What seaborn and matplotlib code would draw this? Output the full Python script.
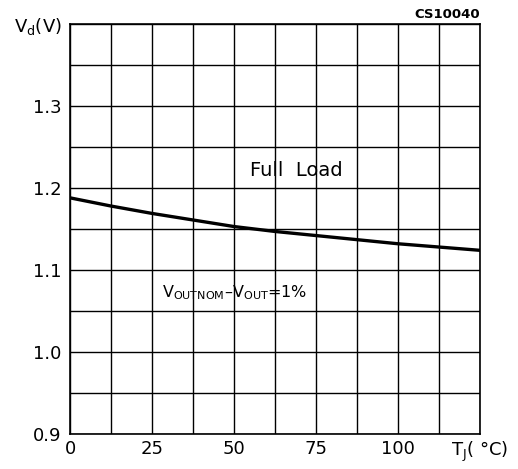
import matplotlib
matplotlib.use("Agg")
import matplotlib.pyplot as plt
import seaborn as sns
import numpy as np
import pandas as pd

# Data
tj = [0, 12.5, 25, 37.5, 50, 62.5, 75, 87.5, 100, 112.5, 125]
vd = [1.188, 1.178, 1.169, 1.161, 1.153, 1.147, 1.142, 1.137, 1.132, 1.128, 1.124]
x_ticks = [0, 25, 50, 75, 100, 125]
x_labels = ["0", "25", "50", "75", "100", r"T$_{\rm J}$( °C)"]
y_ticks = [0.9, 1.0, 1.1, 1.2, 1.3, 1.4]
y_labels = ["0.9", "1.0", "1.1", "1.2", "1.3", r"V$_{\rm d}$(V)"]

sns.set_theme(style="white")
plt.rcParams['font.family'] = ['DejaVu Sans']
plt.rcParams['mathtext.fontset'] = 'dejavusans'

fig = plt.figure(figsize=(5.18, 4.69), dpi=100)
ax = fig.add_axes([70/518, 1 - 434/469, 410/518, 410/469])

df = pd.DataFrame({"TJ": tj, "Vd": vd})
sns.lineplot(data=df, x="TJ", y="Vd", ax=ax, color="black", linewidth=2.4)

ax.set_xlim(0, 125)
ax.set_ylim(0.9, 1.4)
ax.set_xticks(np.arange(0, 125.1, 12.5), minor=True)
ax.set_yticks(np.arange(0.9, 1.401, 0.05), minor=True)
ax.set_xticks(x_ticks)
ax.set_xticklabels(x_labels)
ax.set_yticks(y_ticks)
ax.set_yticklabels(y_labels)
ax.grid(True, which="both", color="black", linewidth=1.0)
ax.tick_params(which="both", length=0, labelsize=13, colors="black", pad=6)
ax.tick_params(axis="x", pad=4)
for s in ax.spines.values():
    s.set_color("black")
    s.set_linewidth(1.2)
ax.set_xlabel("")
ax.set_ylabel("")

ax.text(69, 1.221, "Full  Load", ha="center", va="center", fontsize=14, color="black")
ax.text(50.3, 1.072, r"V$_{\rm OUTNOM}$–V$_{\rm OUT}$=1%", ha="center", va="center",
        fontsize=11.5, color="black")
fig.text(480/518, 1 - 14/469, "CS10040", ha="right", va="center", fontsize=9.5,
         fontweight="bold", color="black")

fig.savefig("out.png", dpi=100)
